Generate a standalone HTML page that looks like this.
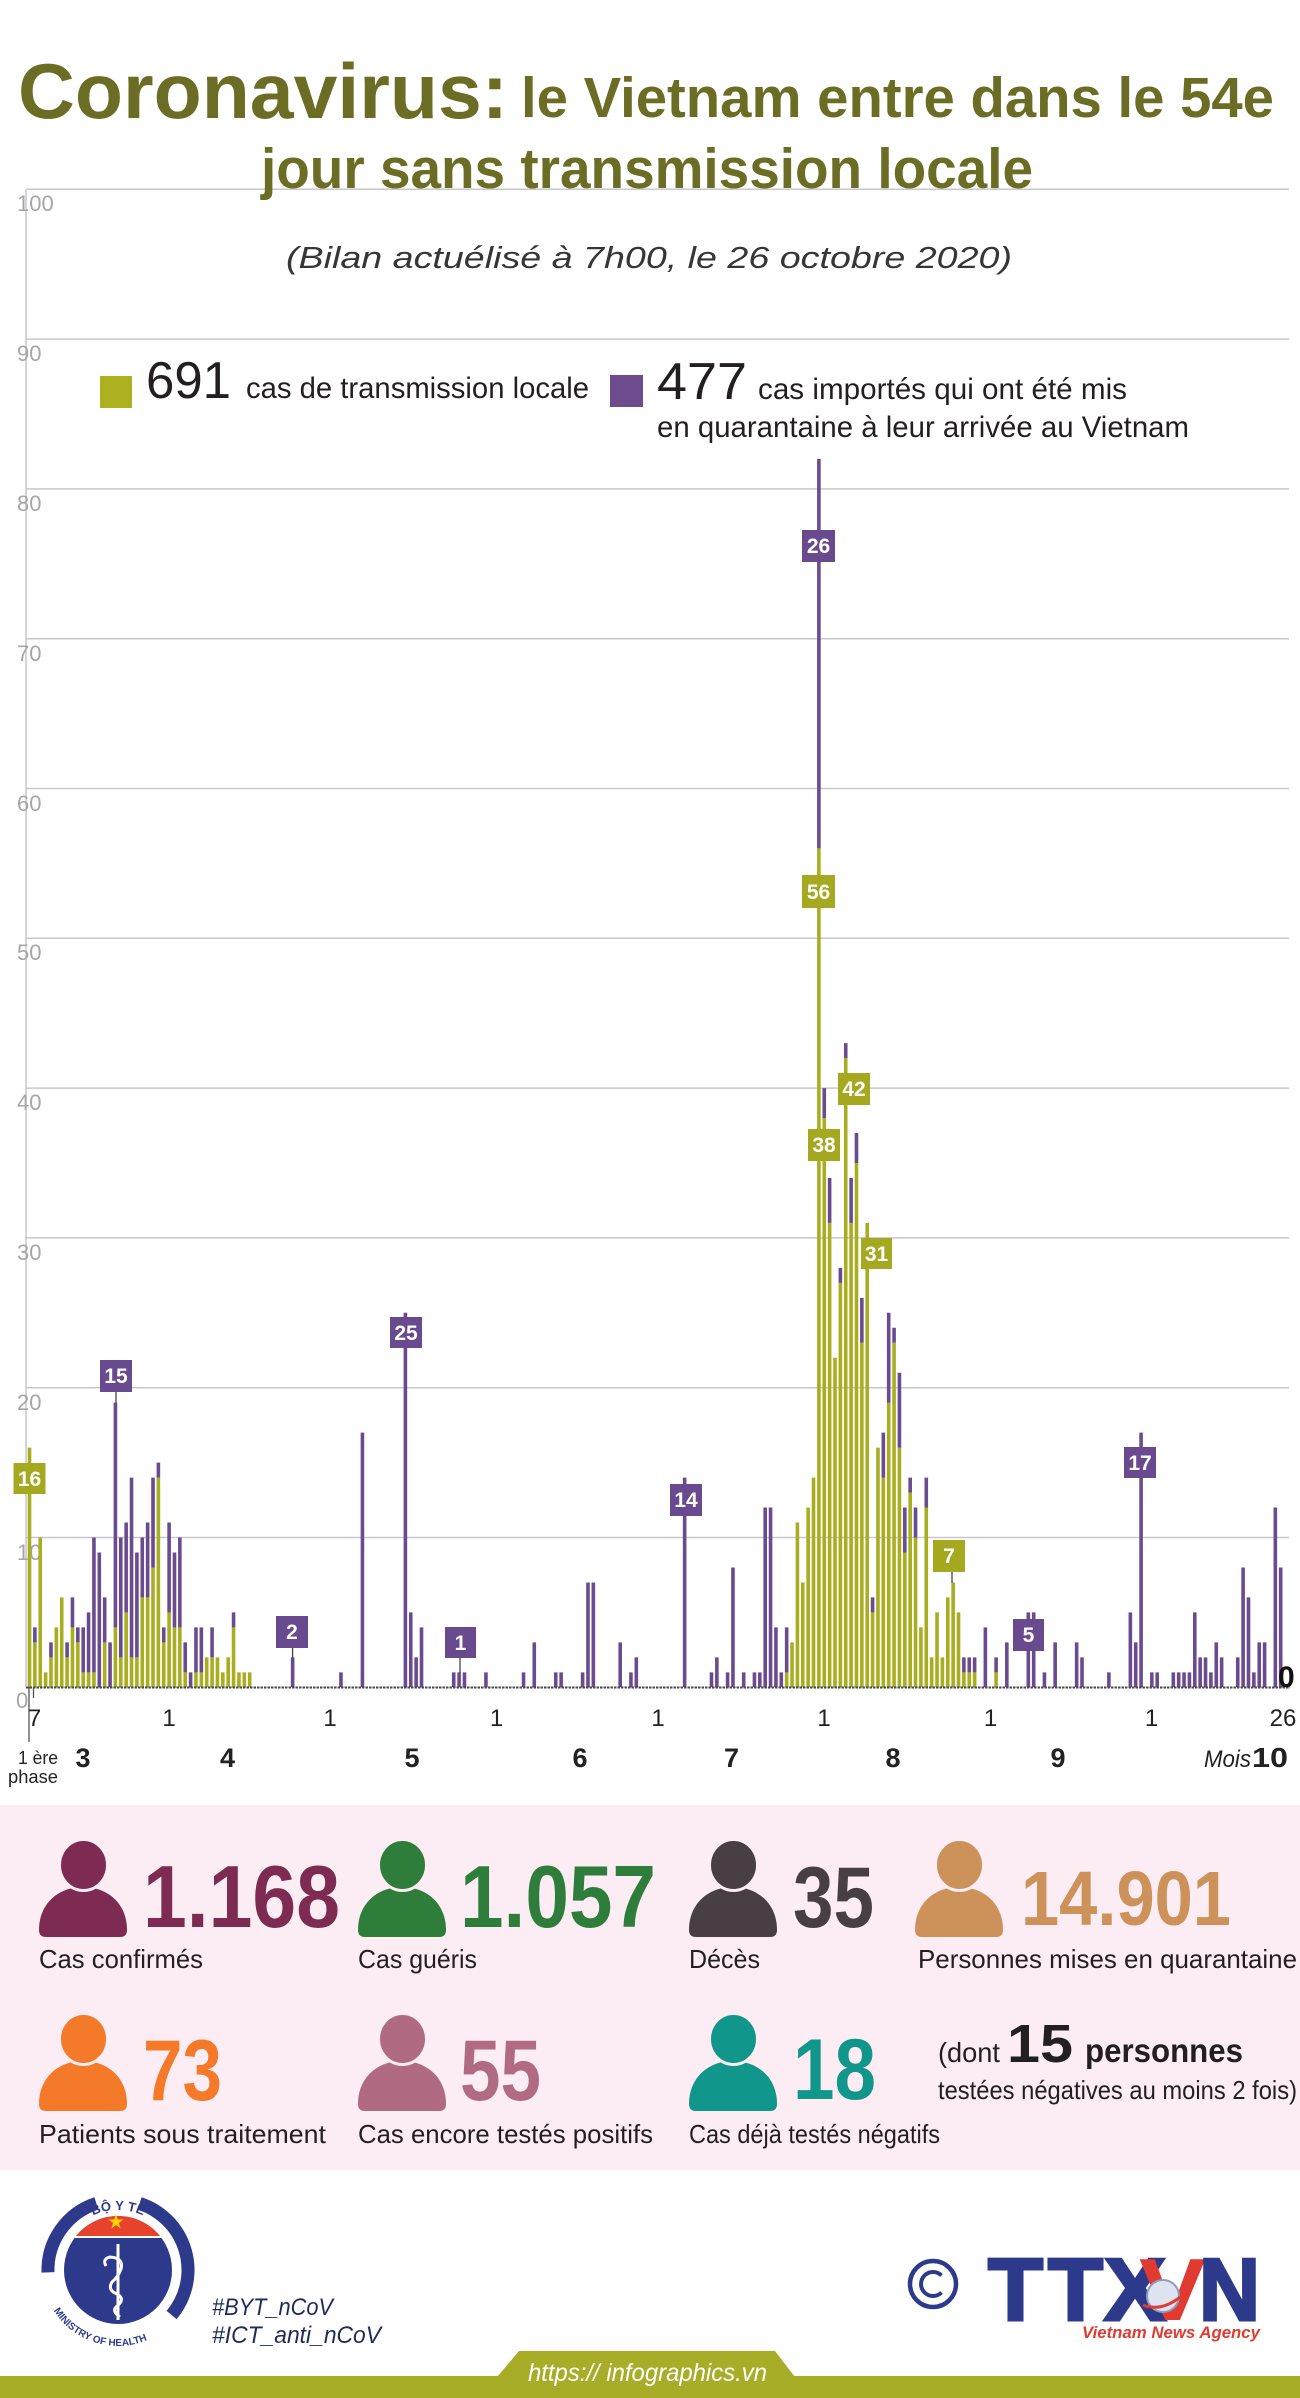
<!DOCTYPE html>
<html>
<head>
<meta charset="utf-8">
<style>
  html,body{margin:0;padding:0;background:#fff;}
  svg{display:block;}
  text{font-family:"Liberation Sans", sans-serif;}
</style>
</head>
<body>
<svg xmlns="http://www.w3.org/2000/svg" width="1300" height="2398" viewBox="0 0 1300 2398">
  <defs>
    <g id="person">
      <path d="M0,90 C0,63 20,47 44,47 C68,47 88,63 88,90 Q88,97 81,97 L7,97 Q0,97 0,90 Z"/>
      <ellipse cx="44.5" cy="25" rx="24" ry="25.5" stroke="#fcecf3" stroke-width="3"/>
    </g>
  </defs>

  <rect x="0" y="0" width="1300" height="2398" fill="#ffffff"/>

  <!-- ===== Chart grid ===== -->
  <g stroke="#c9c6cf" stroke-width="1.5">
    <line x1="26" y1="189.3" x2="26" y2="1687"/>
    <line x1="26" y1="189.3" x2="1289" y2="189.3"/>
    <line x1="26" y1="339.1" x2="1289" y2="339.1"/>
    <line x1="26" y1="488.9" x2="1289" y2="488.9"/>
    <line x1="26" y1="638.7" x2="1289" y2="638.7"/>
    <line x1="26" y1="788.5" x2="1289" y2="788.5"/>
    <line x1="26" y1="938.3" x2="1289" y2="938.3"/>
    <line x1="26" y1="1088.1" x2="1289" y2="1088.1"/>
    <line x1="26" y1="1237.9" x2="1289" y2="1237.9"/>
    <line x1="26" y1="1387.7" x2="1289" y2="1387.7"/>
    <line x1="26" y1="1537.5" x2="1289" y2="1537.5"/>
  </g>
  <g fill="#a6a6a6" font-size="22">
    <text x="17" y="211">100</text>
    <text x="17" y="361">90</text>
    <text x="17" y="511">80</text>
    <text x="17" y="661">70</text>
    <text x="17" y="811">60</text>
    <text x="17" y="960">50</text>
    <text x="17" y="1110">40</text>
    <text x="17" y="1260">30</text>
    <text x="17" y="1410">20</text>
    <text x="17" y="1560">10</text>
    <text x="16" y="1708">0</text>
  </g>

  <!-- ===== Title ===== -->
  <text x="18" y="118" font-size="78" font-weight="bold" fill="#6c6d24" textLength="490" lengthAdjust="spacingAndGlyphs">Coronavirus:</text>
  <text x="521" y="117" font-size="57" font-weight="bold" fill="#6c6d24" textLength="753" lengthAdjust="spacingAndGlyphs">le Vietnam entre dans le 54e</text>
  <text x="261" y="188" font-size="57" font-weight="bold" fill="#6c6d24" textLength="772" lengthAdjust="spacingAndGlyphs">jour sans transmission locale</text>
  <text x="286" y="268" font-size="31" font-style="italic" fill="#363636" textLength="726" lengthAdjust="spacingAndGlyphs">(Bilan actuélisé à 7h00, le 26 octobre 2020)</text>

  <!-- ===== Legend ===== -->
  <rect x="100" y="376" width="32" height="32" fill="#adb01f"/>
  <text x="146" y="398" font-size="52" fill="#231f20" textLength="85" lengthAdjust="spacingAndGlyphs">691</text>
  <text x="246" y="398" font-size="30" fill="#231f20" textLength="343" lengthAdjust="spacingAndGlyphs">cas de transmission locale</text>
  <rect x="610" y="375" width="33" height="32" fill="#6e4a8e"/>
  <text x="657" y="399" font-size="52" fill="#231f20" textLength="90" lengthAdjust="spacingAndGlyphs">477</text>
  <text x="758" y="399" font-size="30" fill="#231f20" textLength="369" lengthAdjust="spacingAndGlyphs">cas importés qui ont été mis</text>
  <text x="657" y="437" font-size="30" fill="#231f20" textLength="532" lengthAdjust="spacingAndGlyphs">en quarantaine à leur arrivée au Vietnam</text>

  <!-- ===== Bars ===== -->
  <g transform="translate(29.5,1687.3) scale(5.37,-14.98)" fill="none" stroke-linecap="butt" stroke-width="0.67">
    <path stroke="#a9ad20" d="M0,0v16M1,0v3M2,0v10M3,0v1M4,0v2M5,0v4M6,0v6M7,0v2M8,0v4M9,0v3M10,0v1M11,0v1M12,0v1M14,0v3M16,0v4M17,0v2M18,0v5M19,0v2M20,0v2M21,0v6M22,0v6M23,0v8M24,0v14M25,0v3M26,0v5M27,0v4M28,0v4M29,0v1M31,0v1M32,0v1M33,0v2M34,0v2M35,0v2M36,0v1M37,0v2M38,0v4M39,0v1M40,0v1M41,0v1M141,0v1M142,0v3M143,0v11M144,0v7M145,0v12M146,0v14M147,0v56M148,0v38M149,0v31M150,0v22M151,0v27M152,0v42M153,0v31M154,0v35M155,0v23M156,0v31M157,0v5M158,0v16M159,0v14M160,0v19M161,0v23M162,0v16M163,0v9M164,0v13M165,0v10M166,0v4M167,0v12M168,0v2M169,0v5M170,0v2M171,0v6M172,0v7M173,0v5M174,0v1M175,0v1M176,0v1M180,0v1"/>
    <path stroke="#6b4b8f" d="M1,3v1M4,2v1M7,2v1M8,4v2M9,3v1M10,1v3M11,1v4M12,1v9M13,0v9M14,3v3M15,0v3M16,4v15M17,2v8M18,5v6M19,2v12M20,2v7M21,6v4M22,6v5M23,8v6M24,14v1M25,3v1M26,5v6M27,4v5M28,4v6M29,1v2M30,0v1M31,1v3M32,1v3M34,2v2M38,4v1M49,0v2M58,0v1M62,0v17M70,0v25M71,0v5M72,0v2M73,0v4M79,0v1M80,0v1M81,0v1M85,0v1M92,0v1M94,0v3M98,0v1M99,0v1M103,0v1M104,0v7M105,0v7M110,0v3M112,0v1M113,0v2M122,0v14M127,0v1M128,0v2M130,0v1M131,0v8M133,0v1M135,0v1M136,0v1M137,0v12M138,0v12M139,0v4M140,0v1M141,1v3M147,56v26M148,38v2M149,31v3M151,27v1M152,42v1M153,31v3M154,35v2M155,23v3M157,5v1M159,14v3M160,19v6M161,23v1M162,16v5M163,9v3M164,13v1M165,10v2M167,12v2M174,1v1M175,1v1M176,1v1M178,0v4M180,1v1M182,0v3M186,0v5M187,0v5M189,0v1M191,0v3M195,0v3M196,0v2M201,0v1M205,0v5M206,0v3M207,0v17M209,0v1M210,0v1M213,0v1M214,0v1M215,0v1M216,0v1M217,0v5M218,0v2M219,0v2M220,0v1M221,0v3M222,0v2M225,0v2M226,0v8M227,0v6M228,0v1M229,0v3M230,0v3M232,0v12M233,0v8"/>
  </g>

  <!-- baseline -->
  <line x1="26" y1="1687.5" x2="1290" y2="1687.5" stroke="#4a4a4a" stroke-width="2" stroke-dasharray="2.5 1"/>
  <line x1="29" y1="1687" x2="29" y2="1742" stroke="#555" stroke-width="1.3"/>
  <line x1="33.5" y1="1687" x2="33.5" y2="1698" stroke="#555" stroke-width="1.3"/>
  <text x="1278" y="1687" font-size="30" font-weight="bold" fill="#111">0</text>

  <!-- leader lines -->
  <g stroke="#444" stroke-width="1.3">
    <line x1="116" y1="1392" x2="116" y2="1403"/>
    <line x1="292.6" y1="1648" x2="292.6" y2="1658"/>
    <line x1="460" y1="1658" x2="460" y2="1673"/>
    <line x1="952" y1="1572" x2="952" y2="1583"/>
  </g>

  <!-- value boxes -->
  <g font-size="21" font-weight="bold" fill="#ffffff" text-anchor="middle">
    <rect x="13.5" y="1463" width="32" height="31" fill="#a4a920"/><text x="29.5" y="1486">16</text>
    <rect x="100" y="1360" width="32" height="32" fill="#6a4a8e"/><text x="116" y="1383">15</text>
    <rect x="276" y="1616" width="32" height="32" fill="#6a4a8e"/><text x="292" y="1639">2</text>
    <rect x="390" y="1317" width="32" height="31" fill="#6a4a8e"/><text x="406" y="1340">25</text>
    <rect x="445" y="1627" width="31" height="31" fill="#6a4a8e"/><text x="460.5" y="1650">1</text>
    <rect x="670" y="1484" width="32" height="32" fill="#6a4a8e"/><text x="686" y="1507">14</text>
    <rect x="1124" y="1447" width="32" height="31" fill="#6a4a8e"/><text x="1140" y="1470">17</text>
    <rect x="1013" y="1619" width="31" height="32" fill="#6a4a8e"/><text x="1028.5" y="1642">5</text>
    <rect x="933" y="1540" width="32" height="32" fill="#a4a920"/><text x="949" y="1563">7</text>
    <rect x="802" y="530" width="33" height="32" fill="#6a4a8e"/><text x="818.5" y="553">26</text>
    <rect x="802" y="875" width="33" height="33" fill="#a4a920"/><text x="818.5" y="899">56</text>
    <rect x="808" y="1129" width="32" height="32" fill="#a4a920"/><text x="824" y="1152">38</text>
    <rect x="838" y="1073" width="32" height="32" fill="#a4a920"/><text x="854" y="1096">42</text>
    <rect x="861" y="1238" width="31" height="31" fill="#a4a920"/><text x="876.5" y="1261">31</text>
  </g>

  <!-- x-axis labels -->
  <g font-size="24" fill="#222" text-anchor="middle">
    <text x="34.5" y="1726">7</text>
    <text x="169" y="1726">1</text>
    <text x="330" y="1726">1</text>
    <text x="496.5" y="1726">1</text>
    <text x="658" y="1726">1</text>
    <text x="824" y="1726">1</text>
    <text x="990.5" y="1726">1</text>
    <text x="1151.5" y="1726">1</text>
    <text x="1283" y="1726">26</text>
  </g>
  <text x="18" y="1764" font-size="18" fill="#222" textLength="40" lengthAdjust="spacingAndGlyphs">1 ère</text>
  <text x="8" y="1783" font-size="18" fill="#222" textLength="50" lengthAdjust="spacingAndGlyphs">phase</text>
  <g font-size="27" font-weight="bold" fill="#222" text-anchor="middle">
    <text x="83" y="1767">3</text>
    <text x="227.5" y="1767">4</text>
    <text x="412" y="1767">5</text>
    <text x="580" y="1767">6</text>
    <text x="731.5" y="1767">7</text>
    <text x="893" y="1767">8</text>
    <text x="1058" y="1767">9</text>
  </g>
  <text x="1204" y="1767" font-size="24" font-style="italic" fill="#222" textLength="47" lengthAdjust="spacingAndGlyphs">Mois</text>
  <text x="1252" y="1767" font-size="28" font-weight="bold" fill="#222" textLength="36" lengthAdjust="spacingAndGlyphs">10</text>

  <!-- ===== Stats panel ===== -->
  <rect x="0" y="1805" width="1300" height="365" fill="#fcecf3"/>

  <use href="#person" x="39" y="1840" fill="#7d2b52"/>
  <use href="#person" x="358" y="1840" fill="#2f7d3b"/>
  <use href="#person" x="689" y="1840" fill="#473f44"/>
  <use href="#person" x="915" y="1840" fill="#cc925a"/>
  <use href="#person" x="39" y="2014" fill="#f47a2a"/>
  <use href="#person" x="358" y="2014" fill="#b06b83"/>
  <use href="#person" x="689" y="2014" fill="#11968b"/>

  <g font-weight="bold">
    <text x="143" y="1927" font-size="88" fill="#7d2b52" textLength="197" lengthAdjust="spacingAndGlyphs">1.168</text>
    <text x="460" y="1927" font-size="88" fill="#2f7d3b" textLength="196" lengthAdjust="spacingAndGlyphs">1.057</text>
    <text x="793" y="1927" font-size="86" fill="#473f44" textLength="81" lengthAdjust="spacingAndGlyphs">35</text>
    <text x="1021" y="1925" font-size="77" fill="#cc925a" textLength="210" lengthAdjust="spacingAndGlyphs">14.901</text>
    <text x="143" y="2100" font-size="86" fill="#f47a2a" textLength="79" lengthAdjust="spacingAndGlyphs">73</text>
    <text x="460" y="2100" font-size="86" fill="#b06b83" textLength="81" lengthAdjust="spacingAndGlyphs">55</text>
    <text x="793" y="2099" font-size="86" fill="#11968b" textLength="83" lengthAdjust="spacingAndGlyphs">18</text>
  </g>
  <g font-size="26" fill="#231f20">
    <text x="39" y="1968" textLength="164" lengthAdjust="spacingAndGlyphs">Cas confirmés</text>
    <text x="358" y="1968" textLength="119" lengthAdjust="spacingAndGlyphs">Cas guéris</text>
    <text x="689" y="1968" textLength="71" lengthAdjust="spacingAndGlyphs">Décès</text>
    <text x="918" y="1968" textLength="379" lengthAdjust="spacingAndGlyphs">Personnes mises en quarantaine</text>
    <text x="39" y="2143" textLength="287" lengthAdjust="spacingAndGlyphs">Patients sous traitement</text>
    <text x="358" y="2143" textLength="295" lengthAdjust="spacingAndGlyphs">Cas encore testés positifs</text>
    <text x="689" y="2143" textLength="251" lengthAdjust="spacingAndGlyphs">Cas déjà testés négatifs</text>
    <text x="938" y="2062" font-size="28" textLength="62" lengthAdjust="spacingAndGlyphs">(dont</text>
    <text x="938" y="2099" textLength="359" lengthAdjust="spacingAndGlyphs">testées négatives au moins 2 fois)</text>
  </g>
  <text x="1007" y="2062" font-size="54" font-weight="bold" fill="#231f20" textLength="66" lengthAdjust="spacingAndGlyphs">15</text>
  <text x="1085" y="2062" font-size="33" font-weight="bold" fill="#231f20" textLength="158" lengthAdjust="spacingAndGlyphs">personnes</text>

  <!-- ===== Footer ===== -->
  <!-- Ministry of Health logo -->
  <g>
    <path d="M48,2272.4 A70,70 0 0 1 96.4,2203.4" stroke="#2d3a8c" stroke-width="13" fill="none"/>
    <path d="M139.6,2203.4 A70,70 0 0 1 171.6,2315" stroke="#2d3a8c" stroke-width="13" fill="none"/>
    <circle cx="118" cy="2270" r="54" fill="#2d3a8c"/>
    <path d="M76,2236 A54,54 0 0 1 160,2236 Z" fill="#e8412c"/>
    <line x1="75" y1="2237" x2="161" y2="2237" stroke="#fff" stroke-width="2"/>
    <polygon points="116,2214 117.8,2219.5 123.5,2219.5 118.9,2222.9 120.6,2228.4 116,2225 111.4,2228.4 113.1,2222.9 108.5,2219.5 114.2,2219.5" fill="#ffd400"/>
    <line x1="118" y1="2244" x2="118" y2="2320" stroke="#fff" stroke-width="3"/>
    <path d="M106,2266 q-4,-7 4,-9 q14,1 11,12 q-3,8 -9,13 q-5,8 5,12 q9,5 0,12 q-6,5 3,11" stroke="#fff" stroke-width="3" fill="none"/>
    <path id="mohTop" d="M83.6,2220.8 A60,60 0 0 1 152.4,2220.8" fill="none"/>
    <path id="mohBot" d="M43.1,2283.2 A76,76 0 0 0 171.7,2323.7" fill="none"/>
    <text font-size="13" font-weight="bold" fill="#2d3a8c" text-anchor="middle"><textPath href="#mohTop" startOffset="50%">BỘ Y TẾ</textPath></text>
    <text font-size="10" font-weight="bold" fill="#2d3a8c" text-anchor="middle"><textPath href="#mohBot" startOffset="50%">MINISTRY OF HEALTH</textPath></text>
  </g>
  <text x="212" y="2315" font-size="24" font-style="italic" fill="#1f2a5c" textLength="121" lengthAdjust="spacingAndGlyphs">#BYT_nCoV</text>
  <text x="212" y="2343" font-size="24" font-style="italic" fill="#1f2a5c" textLength="169" lengthAdjust="spacingAndGlyphs">#ICT_anti_nCoV</text>

  <!-- copyright + TTXVN -->
  <circle cx="933" cy="2284" r="23" stroke="#2d3a8c" stroke-width="4.5" fill="none"/>
  <path d="M941.5,2275.5 A12,12 0 1 0 941.5,2292.5" stroke="#2d3a8c" stroke-width="4" fill="none"/>
  <g font-size="88" font-weight="bold" fill="#2d3a8c" stroke="#2d3a8c" stroke-width="3">
    <text x="988" y="2320" textLength="55" lengthAdjust="spacingAndGlyphs">T</text>
    <text x="1048" y="2320" textLength="55" lengthAdjust="spacingAndGlyphs">T</text>
    <text x="1104" y="2320" textLength="62" lengthAdjust="spacingAndGlyphs">X</text>
  </g>
  <text x="1139" y="2320" font-size="88" font-weight="bold" fill="#e03a31" textLength="67" lengthAdjust="spacingAndGlyphs">V</text>
  <circle cx="1163" cy="2296" r="16" fill="#dde3ef" stroke="#8f9cc2" stroke-width="2"/>
  <path d="M1143,2305 q20,8 42,-12" stroke="#e03a31" stroke-width="3" fill="none"/>
  <text x="1199" y="2320" font-size="88" font-weight="bold" fill="#2d3a8c" stroke="#2d3a8c" stroke-width="3" textLength="61" lengthAdjust="spacingAndGlyphs">N</text>
  <text x="1082" y="2338" font-size="17" font-weight="bold" font-style="italic" fill="#e03a31" textLength="178" lengthAdjust="spacingAndGlyphs">Vietnam News Agency</text>

  <!-- bottom band -->
  <rect x="0" y="2376" width="1300" height="22" fill="#a8ad27"/>
  <polygon points="497,2377 519,2351 775,2351 795,2377" fill="#a8ad27"/>
  <text x="528" y="2381" font-size="25" font-style="italic" fill="#ffffff" textLength="239" lengthAdjust="spacingAndGlyphs">https:// infographics.vn</text>
</svg>
</body>
</html>
